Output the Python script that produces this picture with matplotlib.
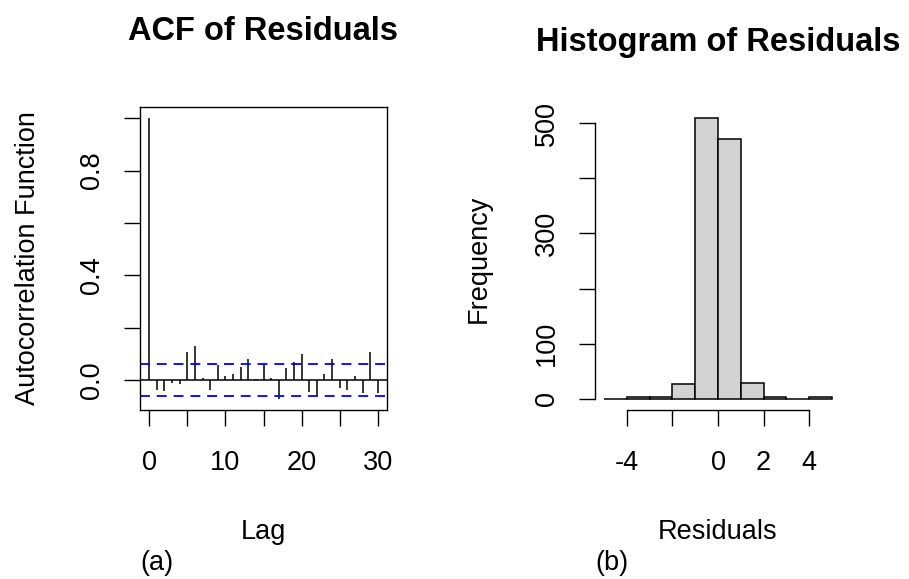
import matplotlib
matplotlib.use('Agg')
import matplotlib.pyplot as plt
import numpy as np

plt.rcParams.update({
    'font.family': ['Liberation Sans', 'DejaVu Sans'],
    'font.size': 19.5,
    'axes.linewidth': 1.0,
    'xtick.major.width': 1.0,
    'ytick.major.width': 1.0,
    'xtick.major.size': 11.5,
    'ytick.major.size': 11.5,
})

# ACF values, lags 0..30
lags = list(range(31))
acf_vals = [1.0, -0.037, -0.043, -0.009, -0.015, 0.108, 0.130, 0.008, -0.037, 0.056,
            0.014, 0.023, 0.050, 0.081, 0.003, 0.061, 0.008, -0.071, 0.048, 0.069,
            0.100, -0.044, -0.062, 0.023, 0.081, -0.030, -0.037, 0.015, -0.050, 0.108,
            -0.050]
conf_limit = 0.061

# histogram of residuals
bin_edges = [-5, -4, -3, -2, -1, 0, 1, 2, 3, 4, 5]
bin_counts = [0, 3, 3, 26, 509, 471, 29, 3, 0, 3]

W, H = 909, 579
fig = plt.figure(figsize=(W / 100, H / 100), dpi=100)

def px_axes(l, t, r, b):
    return fig.add_axes([l / W, 1 - b / H, (r - l) / W, (b - t) / H])

# ---------- (a) ACF ----------
ax1 = px_axes(140, 107, 387, 410)
ax1.vlines(lags, 0, acf_vals, color='black', lw=1.1)
ax1.axhline(0, color='black', lw=1.1)
for c in (conf_limit, -conf_limit):
    ax1.axhline(c, color='#0000FF', lw=1.3, linestyle=(0, (5.5, 3.8)))
ax1.set_xlim(-1.2, 31.2)
ax1.set_ylim(-0.114, 1.043)
ax1.set_xticks([0, 5, 10, 15, 20, 25, 30])
ax1.set_xticklabels(['0', '', '10', '', '20', '', '30'])
ax1.set_yticks([0, 0.2, 0.4, 0.6, 0.8, 1.0])
ax1.set_yticklabels(['0.0', '', '0.4', '', '0.8', ''])
ax1.tick_params(axis='x', pad=17)
ax1.tick_params(axis='y', pad=14, labelrotation=90)
for t in ax1.get_yticklabels():
    t.set_va('center')
ax1.set_title('ACF of Residuals', fontsize=23.5, fontweight='bold', pad=48)
ax1.set_xlabel('Lag', labelpad=31)
ax1.set_ylabel('Autocorrelation Function', labelpad=27)

# ---------- (b) histogram ----------
ax2 = px_axes(595, 107, 841, 410)
ax2.hist(np.array(bin_edges[:-1]) + 0.5, bins=bin_edges, weights=bin_counts,
         color='#D3D3D3', edgecolor='black', linewidth=1.1)
ax2.set_xlim(-5.4, 5.4)
ax2.set_ylim(-20.4, 529.4)
for s in ('top', 'right'):
    ax2.spines[s].set_visible(False)
ax2.spines['left'].set_bounds(0, 500)
ax2.spines['bottom'].set_bounds(-4, 4)
ax2.set_xticks([-4, -2, 0, 2, 4])
ax2.set_xticklabels(['-4', '', '0', '2', '4'])
ax2.set_yticks([0, 100, 200, 300, 400, 500])
ax2.set_yticklabels(['0', '100', '', '300', '', '500'])
ax2.tick_params(axis='x', pad=17)
ax2.tick_params(axis='y', pad=14, labelrotation=90)
for t in ax2.get_yticklabels():
    t.set_va('center')
ax2.set_title('Histogram of Residuals', fontsize=23.5, fontweight='bold', pad=40)
ax2.set_xlabel('Residuals', labelpad=31)
ax2.set_ylabel('Frequency', labelpad=30)

fig.text(140 / W, 1 - 563 / H, '(a)', ha='left', va='center')
fig.text(595 / W, 1 - 563 / H, '(b)', ha='left', va='center')

fig.savefig('out.png', dpi=100)
